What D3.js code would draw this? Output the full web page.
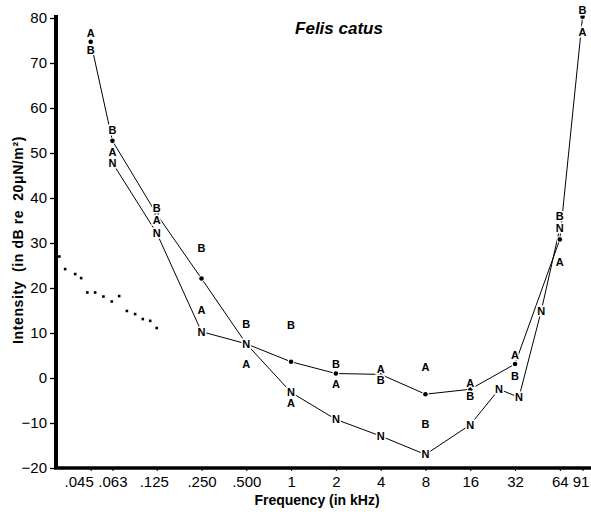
<!DOCTYPE html>
<html>
<head>
<meta charset="utf-8">
<script src="https://cdn.jsdelivr.net/npm/d3@7"></script>
<style>
  body { margin: 0; background: #fff; }
  svg { font-family: "Liberation Sans", Arial, sans-serif; }
</style>
</head>
<body>
<svg id="chart" width="591" height="515"></svg>
<script>
// Frecuencias (kHz) de las columnas principales
const freqs = [0.045, 0.063, 0.125, 0.25, 0.5, 1, 2, 4, 8, 16, 32, 64, 91];
const tickLabels = ['.045', '.063', '.125', '.250', '.500', '1', '2', '4', '8', '16', '32', '64', '91'];

// Serie con puntos (media), y puntos sueltos A y B
const meanDb = [74.7, 52.7, 36.4, 22.1, 7.6, 3.6, 1.0, 0.8, -3.6, -2.5, 3.1, 30.8, 80.3];
const aDb = [76.7, 50.2, 35.0, 15.1, 3.0, -5.5, -1.4, 2.0, 2.5, -1.2, 5.1, 25.8, 76.9];
const bDb = [72.9, 55.1, 37.8, 28.9, 11.9, 11.8, 3.0, -0.4, -10.3, -4.0, 0.4, 36.0, 81.8];

// Serie N
const nFreqs = [0.063, 0.125, 0.25, 0.5, 1, 2, 4, 8, 16, 25, 34, 48, 64];
const nDb = [47.8, 32.2, 10.3, 7.6, -3.2, -9.2, -12.9, -17.0, -10.4, -2.5, -4.3, 14.9, 33.3];

// Serie punteada a la izquierda
const dotFreqs = [0.0277, 0.0303, 0.0354, 0.0388, 0.0427, 0.0482, 0.0548, 0.0624, 0.0699, 0.0788, 0.0895, 0.1008, 0.113, 0.125];
const dotDb = [27.0, 24.2, 23.1, 22.2, 19.0, 19.0, 18.1, 17.0, 18.2, 14.9, 14.2, 13.1, 12.7, 11.1];

const yTicks = [-20, -10, 0, 10, 20, 30, 40, 50, 60, 70, 80];

const svg = d3.select('#chart');

const x = d3.scaleLog().base(2).domain([0.0263, 103.7]).range([56, 591]);
const y = d3.scaleLinear().domain([-20, 80]).range([468, 18]);

// Ejes
const yAxis = svg.append('g')
  .attr('transform', 'translate(56,0)')
  .call(d3.axisLeft(y).tickValues(yTicks).tickSize(6).tickSizeOuter(0).tickPadding(3));
yAxis.select('.domain').attr('stroke-width', 4).attr('d', `M0,${y(-20) + 1}V${y(80) - 3}`);
yAxis.selectAll('.tick line').attr('stroke-width', 1.3);
yAxis.selectAll('.tick text').attr('font-size', 15).attr('fill', '#000');

const xAxis = svg.append('g')
  .attr('transform', `translate(0,${y(-20)})`)
  .call(d3.axisBottom(x).tickValues(freqs).tickSize(3).tickSizeOuter(0).tickPadding(5)
    .tickFormat((d, i) => tickLabels[i]));
xAxis.select('.domain').attr('stroke-width', 3.5).attr('d', 'M54,0H591');
xAxis.selectAll('.tick text')
  .attr('font-size', 15).attr('fill', '#000')
  .attr('dx', (d, i) => i === 0 ? -12 : (i === 2 ? -3 : (i === 12 ? -2 : 0)));

// Líneas
const line = d3.line().x(d => x(d[0])).y(d => y(d[1]));
svg.append('path')
  .datum(freqs.map((f, i) => [f, meanDb[i]]))
  .attr('d', line).attr('fill', 'none').attr('stroke', '#000').attr('stroke-width', 1);
svg.append('path')
  .datum(nFreqs.map((f, i) => [f, nDb[i]]))
  .attr('d', line).attr('fill', 'none').attr('stroke', '#000').attr('stroke-width', 1);

// Puntos de la media
svg.selectAll('.mean')
  .data(freqs.map((f, i) => [f, meanDb[i]]))
  .enter().append('circle')
  .attr('cx', d => x(d[0])).attr('cy', d => y(d[1]))
  .attr('r', 2.3).attr('fill', '#000').attr('stroke', '#fff').attr('stroke-width', 2)
  .attr('paint-order', 'stroke');

// Serie punteada
svg.selectAll('.dot')
  .data(dotFreqs.map((f, i) => [f, dotDb[i]]))
  .enter().append('rect')
  .attr('x', d => x(d[0]) - 1.3).attr('y', d => y(d[1]) - 1.3)
  .attr('width', 2.6).attr('height', 2.6).attr('fill', '#000');

// Letras A, B, N
function letters(fs, vals, txt) {
  svg.append('g').selectAll('text')
    .data(fs.map((f, i) => [f, vals[i]]))
    .enter().append('text')
    .attr('x', d => x(d[0])).attr('y', d => y(d[1]))
    .attr('dy', '0.36em')
    .attr('text-anchor', 'middle')
    .attr('font-size', 11).attr('font-weight', 'bold')
    .attr('stroke', '#fff').attr('stroke-width', 3).attr('paint-order', 'stroke')
    .text(txt);
}
letters(freqs, aDb, 'A');
letters(freqs, bDb, 'B');
letters(nFreqs, nDb, 'N');

// Títulos
svg.append('text')
  .attr('x', 339).attr('y', 34)
  .attr('text-anchor', 'middle')
  .attr('font-size', 17).attr('font-weight', 'bold').attr('font-style', 'italic')
  .text('Felis catus');

svg.append('text')
  .attr('x', 317).attr('y', 505)
  .attr('text-anchor', 'middle')
  .attr('font-size', 14).attr('font-weight', 'bold')
  .text('Frequency (in kHz)');

svg.append('text')
  .attr('transform', 'translate(23,240) rotate(-90)')
  .attr('text-anchor', 'middle')
  .attr('font-size', 14).attr('font-weight', 'bold')
  .attr('letter-spacing', 0.6)
  .attr('xml:space', 'preserve')
  .text('Intensity  (in dB re  20μN/m²)');
</script>
</body>
</html>
